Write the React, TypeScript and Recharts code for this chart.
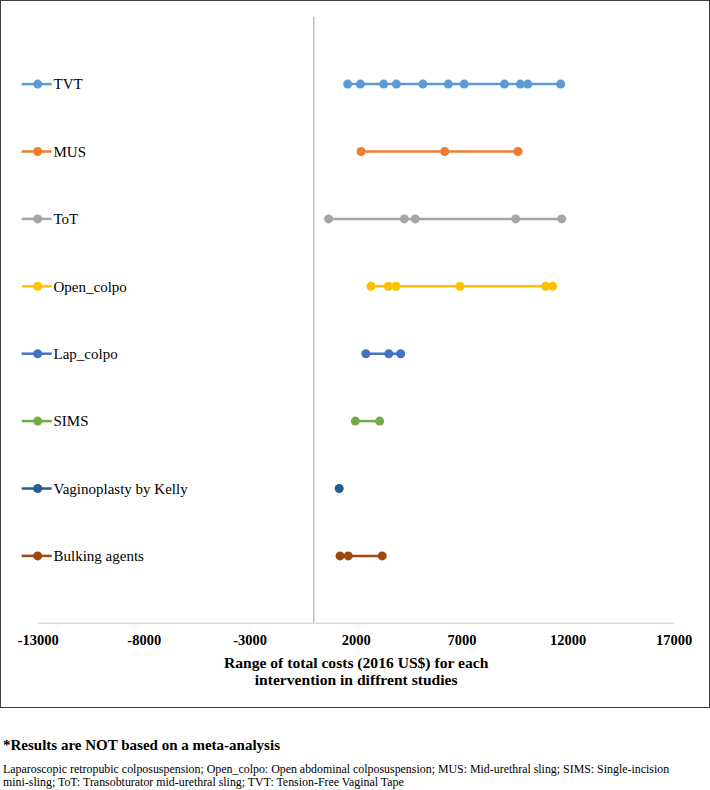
import React from "react";
import {
  ScatterChart,
  Scatter,
  XAxis,
  YAxis,
  ReferenceLine,
} from "recharts";

// cost points per intervention (2016 US$)
const tvt = [1600, 2200, 3300, 3900, 5150, 6350, 7100, 9000, 9750, 10100, 11650];
const mus = [2230, 6180, 9640];
const tot = [700, 4270, 4790, 9530, 11700];
const openColpo = [2700, 3520, 3880, 6900, 10940, 11270];
const lapColpo = [2460, 3540, 4100];
const sims = [1960, 3110];
const vaginoplasty = [1200];
const bulking = [1240, 1630, 3230];

const names = [
  "TVT",
  "MUS",
  "ToT",
  "Open_colpo",
  "Lap_colpo",
  "SIMS",
  "Vaginoplasty by Kelly",
  "Bulking agents",
];
const seriesValues = [tvt, mus, tot, openColpo, lapColpo, sims, vaginoplasty, bulking];
const rows = [8, 7, 6, 5, 4, 3, 2, 1];
const colors = ["#5B9BD5", "#ED7D31", "#A5A5A5", "#FFC000", "#4472C4", "#70AD47", "#255E91", "#9E480E"];

const xTicks = [-13000, -8000, -3000, 2000, 7000, 12000, 17000];

const FONT = "'Liberation Serif', 'Times New Roman', serif";

function LegendTick(props: any) {
  const { y, payload } = props;
  const i = rows.indexOf(payload.value);
  if (i < 0) return null;
  return (
    <g>
      <line x1={20.7} x2={50.7} y1={y} y2={y} stroke={colors[i]} strokeWidth={2.5} />
      <circle cx={36.7} cy={y} r={4.5} fill={colors[i]} />
      <text x={52.5} y={y} dy="0.35em" fontSize={15} fill="#000" fontFamily={FONT}>
        {names[i]}
      </text>
    </g>
  );
}

function AxisTitle(props: any) {
  const vb = props.viewBox || {};
  const cx = vb.x + vb.width / 2;
  return (
    <text x={cx} textAnchor="middle" fontSize={15.6} fontWeight="bold" fill="#000" fontFamily={FONT}>
      <tspan x={cx} y={vb.y + 39.7} dy="0.35em">
        Range of total costs (2016 US$) for each
      </tspan>
      <tspan x={cx} y={vb.y + 56.7} dy="0.35em">
        intervention in diffrent studies
      </tspan>
    </text>
  );
}

export default function App() {
  return (
    <div style={{ position: "absolute", left: 0, top: 0, width: 710, height: 790, fontFamily: FONT, background: "#fff" }}>
      <div
        style={{
          position: "absolute",
          left: 0,
          top: 0,
          width: 710,
          height: 708,
          border: "1px solid #404040",
          boxSizing: "border-box",
        }}
      >
        <ScatterChart width={708} height={706} margin={{ top: 15.7, right: 35, bottom: 0, left: 0 }}>
          <XAxis
            type="number"
            dataKey="x"
            domain={[-13000, 17000]}
            ticks={xTicks}
            interval={0}
            height={83.7}
            axisLine={{ stroke: "#D9D9D9", strokeWidth: 1.5 }}
            tickLine={false}
            tickSize={0}
            tickMargin={11.5}
            tick={{ fontSize: 14.5, fontWeight: "bold", fill: "#000", fontFamily: FONT }}
            label={{ content: AxisTitle }}
          />
          <YAxis
            type="number"
            dataKey="y"
            domain={[0, 9]}
            ticks={rows}
            interval={0}
            width={37.3}
            axisLine={false}
            tickLine={false}
            tick={LegendTick}
          />
          <ReferenceLine x={0} stroke="#BFBFBF" strokeWidth={1.5} />
          {seriesValues.map((vals, i) => (
            <Scatter
              key={names[i]}
              name={names[i]}
              data={vals.map((v) => ({ x: v, y: rows[i] }))}
              fill={colors[i]}
              line={{ stroke: colors[i], strokeWidth: 2.5 }}
              lineType="joint"
              isAnimationActive={false}
            />
          ))}
        </ScatterChart>
      </div>
      <div
        style={{
          position: "absolute",
          left: 3,
          top: 737,
          fontSize: 15,
          fontWeight: "bold",
          color: "#000",
          whiteSpace: "nowrap",
        }}
      >
        *Results are NOT based on a meta-analysis
      </div>
      <div
        style={{
          position: "absolute",
          left: 3,
          top: 763,
          fontSize: 11.9,
          lineHeight: "12.5px",
          color: "#000",
          whiteSpace: "nowrap",
        }}
      >
        Laparoscopic retropubic colposuspension; Open_colpo: Open abdominal colposuspension; MUS: Mid-urethral sling; SIMS: Single-incision
        <br />
        mini-sling; ToT: Transobturator mid-urethral sling; TVT: Tension-Free Vaginal Tape
      </div>
    </div>
  );
}
